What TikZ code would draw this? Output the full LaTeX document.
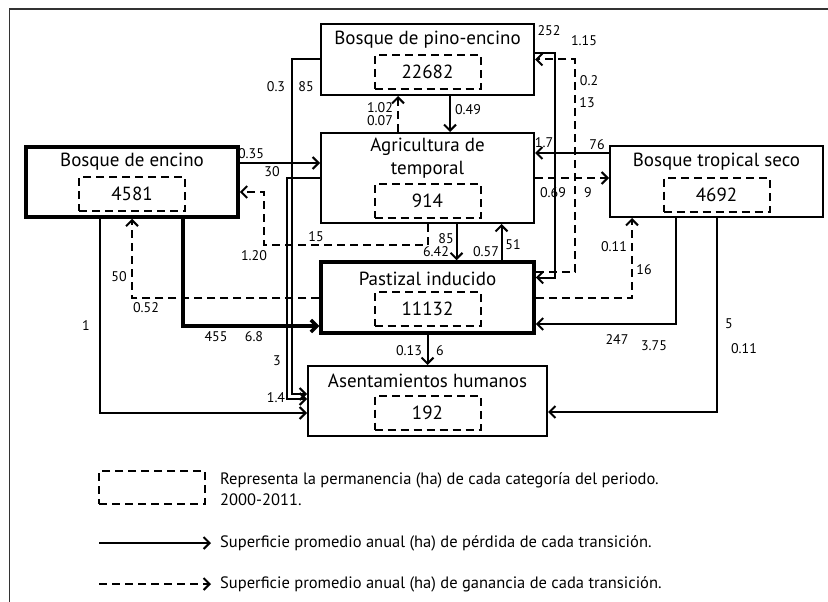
\documentclass[tikz,border=0pt]{standalone}
\usepackage{fontspec}
\setmainfont{PT Sans}
\usetikzlibrary{arrows.meta}

\begin{document}
\begin{tikzpicture}[x=1pt,y=-1pt]

    \tikzset{
      box/.style={
        draw,
        line width=2pt,
        minimum width=213pt,
        minimum height=71pt,
        inner sep=0pt,
      },
      heavy/.style={line width=3.5pt},
      perm/.style={
        draw,
        line width=2pt,
        dash pattern=on 8pt off 5pt,
        minimum width=106pt,
        minimum height=34pt,
        inner sep=0pt,
        font=\fontsize{19}{19}\selectfont,
      },
      title/.style={font=\fontsize{19}{23}\selectfont, align=center, inner sep=0pt},
      num/.style={font=\fontsize{14}{14}\selectfont, inner sep=0pt},
      legend/.style={font=\fontsize{16.5}{21}\selectfont, align=left, anchor=west, inner sep=0pt},
      loss/.style={line width=2pt, -{Straight Barb[length=6pt,width=12pt]}},
      gain/.style={loss, dash pattern=on 8pt off 5pt},
    }
    \useasboundingbox (0,0) rectangle (828,602);
    \draw[line width=1.5pt, color=black!80] (9.5,602) -- (9.5,9) -- (828,9);

    \node[box, heavy, minimum width=212pt, minimum height=70pt] (enc) at (132,182) {};
    \node[box] (pin) at (427.5,59.5) {};
    \node[box, minimum height=90pt] (agr) at (427.5,178) {};
    \node[box, heavy] (pas) at (427.5,297.5) {};
    \node[box, minimum width=239pt, minimum height=70pt] (ase) at (427.5,401) {};
    \node[box] (tro) at (716.5,181.5) {};

    \node[title] (enc-t) at ([yshift=-16]enc.north) {Bosque de encino};
    \node[title] (pin-t) at ([yshift=-17]pin.north) {Bosque de pino-encino};
    \node[title] (agr-t) at ([yshift=-26.5]agr.north) {Agricultura de\\temporal};
    \node[title] (pas-t) at ([yshift=-19]pas.north) {Pastizal inducido};
    \node[title] (ase-t) at ([yshift=-16]ase.north) {Asentamientos humanos};
    \node[title] (tro-t) at ([yshift=-17]tro.north) {Bosque tropical seco};

    \node[perm] (enc-p) at ([yshift=-12]enc.center) {4581};
    \node[perm] (pin-p) at ([yshift=-12.5]pin.center) {22682};
    \node[perm] (agr-p) at ([yshift=-23]agr.center) {914};
    \node[perm] (pas-p) at ([yshift=-11.5]pas.center) {11132};
    \node[perm] (ase-p) at ([yshift=-11.5]ase.center) {192};
    \node[perm] (tro-p) at ([yshift=-13]tro.center) {4692};

    \draw[loss] ([xshift=22.5]pin.south) -- ([xshift=22.5]agr.north);
    \draw[gain] ([xshift=-29.5]agr.north) -- ([xshift=-29.5]pin.south);
    \draw[loss] (pin.west) -- ++(-28,0) |- ([yshift=7]ase.west);
    \draw[loss] (agr.west) -- ++(-33,0) |- ([yshift=2]ase.west);
    \draw[loss] ([yshift=19]enc.east) -- ([yshift=19]enc.east -| agr.west);
    \draw[gain] (agr.south) -- ++(0,21) -| ([xshift=24,yshift=-10]enc.east) -- ([yshift=-10]enc.east);
    \draw[loss] ([xshift=29]agr.south) -- ([xshift=29]pas.north);
    \draw[loss] ([xshift=74]pas.north) -- ([xshift=74]agr.south);
    \draw[loss] ([yshift=28.5]tro.west) -- ([yshift=28.5]tro.west -| agr.east);
    \draw[gain] (agr.east) -- (agr.east -| tro.west);
    \draw[loss] ([yshift=6.5]pin.east) -- ++(20,0) |- ([yshift=20]pas.east);
    \draw[gain] ([yshift=25.5]pas.east) -- ++(39,0) |- (pin.east);
    \draw[gain] (pas.east) -| ([xshift=-84.5]tro.south);
    \draw[loss] ([xshift=-40.5]tro.south) |- ([yshift=-26.5]pas.east);
    \draw[loss] (tro.south) |- ([yshift=-11]ase.east);
    \draw[loss] (pas.south) -- (ase.north);
    \draw[loss, heavy] ([xshift=51]enc.south) |- ([yshift=-28.5]pas.west);
    \draw[gain] (pas.west) -| (enc.south);
    \draw[loss] ([xshift=-32]enc.south) |- ([yshift=-12]ase.west);

    \node[num] (l1) at (468,110) {0.49};
    \node[num] (l2) at (380,108) {1.02};
    \node[num] (l3) at (380,121) {0.07};
    \node[num] (l4) at (276,87) {0.3};
    \node[num] (l5) at (306,87) {85};
    \node[num] (l6) at (251,154) {0.35};
    \node[num] (l7) at (272,172) {30};
    \node[num] (l8) at (316,237) {15};
    \node[num] (l9) at (254,256) {1.20};
    \node[num] (l10) at (446,239) {85};
    \node[num] (l11) at (436,252) {6.42};
    \node[num] (l12) at (486,252) {0.57};
    \node[num] (l13) at (513,245) {51};
    \node[num] (l14) at (544,143) {1.7};
    \node[num] (l15) at (597,145) {76};
    \node[num] (l16) at (553,193) {0.69};
    \node[num] (l17) at (588,193) {9};
    \node[num] (l18) at (549,31) {252};
    \node[num] (l19) at (584,41) {1.15};
    \node[num] (l20) at (589,81) {0.2};
    \node[num] (l21) at (587,103) {13};
    \node[num] (l22) at (614,247) {0.11};
    \node[num] (l23) at (644,270) {16};
    \node[num] (l24) at (617,340) {247};
    \node[num] (l25) at (654,346) {3.75};
    \node[num] (l26) at (729,324) {5};
    \node[num] (l27) at (744,349) {0.11};
    \node[num] (l28) at (409,351) {0.13};
    \node[num] (l29) at (440,351) {6};
    \node[num] (l30) at (216,337) {455};
    \node[num] (l31) at (254,337) {6.8};
    \node[num] (l32) at (119,277) {50};
    \node[num] (l33) at (146,308) {0.52};
    \node[num] (l34) at (86,326) {1};
    \node[num] (l35) at (277,361) {3};
    \node[num] (l36) at (276,398) {1.4};

    \node[perm, minimum height=33pt] (leg-p) at (152,487.5) {};
    \node[legend] (leg-pt) at (220,489.5) {Representa la permanencia (ha) de cada categoría del periodo.\\2000-2011.};
    \node[legend] (leg-l) at (220,543) {Superficie promedio anual (ha) de pérdida de cada transición.};
    \node[legend] (leg-g) at (220,584) {Superficie promedio anual (ha) de ganancia de cada transición.};
    \coordinate (leg-l0) at (99,543);
    \coordinate (leg-g0) at (99,584);
    \draw[loss, shorten >=9pt] (leg-l0) -- (leg-l.west);
    \draw[gain, shorten >=9pt] (leg-g0) -- (leg-g.west);

\end{tikzpicture}
\end{document}
